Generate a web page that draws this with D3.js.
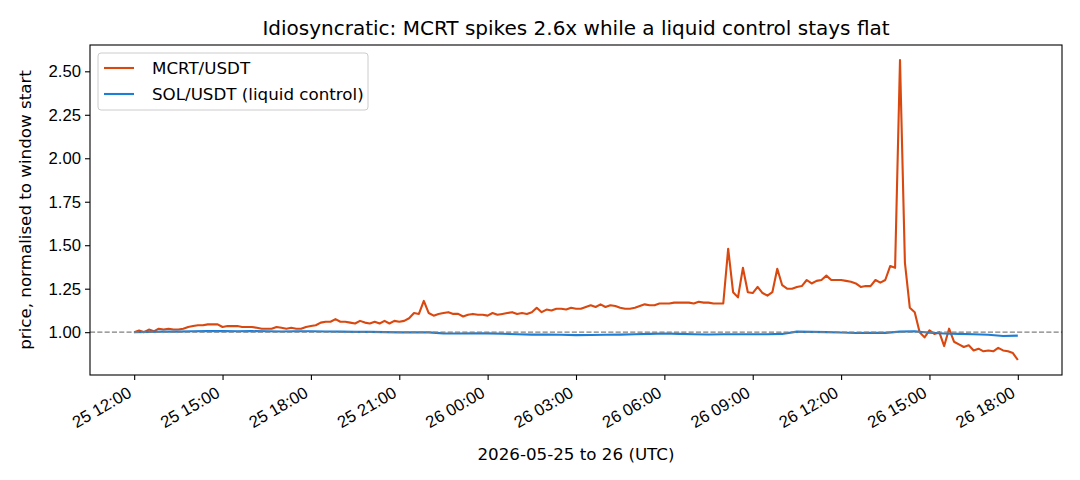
<!DOCTYPE html>
<html>
<head>
<meta charset="utf-8">
<script src="https://cdn.jsdelivr.net/npm/d3@7"></script>
<style>
  body { margin: 0; background: #fff; }
  svg { font-family: "DejaVu Sans", sans-serif; }
  .tick text { font-size: 16.7px; fill: #000; }
  .tick line { stroke: #000; stroke-width: 1.1; }
  .domain { display: none; }
</style>
</head>
<body>
<div id="chart-container"></div>
<script>
// MCRT/USDT, normalised, one reading every 10 minutes from 25 May 12:00 UTC
const mcrtStart = Date.UTC(2026, 4, 25, 12, 0);
const mcrtStepMin = 10;
const mcrtValues = [
  1.000, 1.010, 1.000, 1.015, 1.005, 1.020, 1.015, 1.020, 1.015, 1.015,
  1.020, 1.030, 1.035, 1.040, 1.040, 1.045, 1.045, 1.045, 1.030, 1.035,
  1.035, 1.035, 1.030, 1.030, 1.030, 1.025, 1.020, 1.020, 1.020, 1.030,
  1.025, 1.020, 1.025, 1.020, 1.020, 1.030, 1.035, 1.040, 1.055, 1.060,
  1.060, 1.075, 1.060, 1.060, 1.055, 1.050, 1.065, 1.055, 1.050, 1.060,
  1.050, 1.065, 1.050, 1.065, 1.060, 1.065, 1.080, 1.110, 1.105, 1.180,
  1.110, 1.095, 1.105, 1.110, 1.115, 1.105, 1.105, 1.090, 1.100, 1.105,
  1.100, 1.100, 1.095, 1.110, 1.100, 1.105, 1.110, 1.115, 1.105, 1.110,
  1.105, 1.115, 1.140, 1.115, 1.130, 1.125, 1.135, 1.135, 1.130, 1.140,
  1.135, 1.135, 1.145, 1.155, 1.145, 1.160, 1.145, 1.155, 1.150, 1.140,
  1.135, 1.135, 1.140, 1.150, 1.160, 1.155, 1.155, 1.165, 1.165, 1.165,
  1.170, 1.170, 1.170, 1.170, 1.165, 1.175, 1.170, 1.170, 1.165, 1.165,
  1.165, 1.480, 1.230, 1.200, 1.370, 1.230, 1.225, 1.260, 1.225, 1.210,
  1.230, 1.365, 1.270, 1.250, 1.250, 1.260, 1.265, 1.300, 1.280, 1.295,
  1.300, 1.325, 1.300, 1.300, 1.300, 1.295, 1.290, 1.280, 1.260, 1.265,
  1.265, 1.300, 1.285, 1.300, 1.380, 1.370, 2.565, 1.400, 1.140, 1.115,
  1.000, 0.970, 1.010, 0.990, 1.000, 0.920, 1.020, 0.945, 0.930, 0.915,
  0.925, 0.895, 0.905, 0.890, 0.895, 0.890, 0.910, 0.895, 0.890, 0.880,
  0.840
];

// SOL/USDT, normalised, one reading every 30 minutes over the same window
const solStart = Date.UTC(2026, 4, 25, 12, 0);
const solStepMin = 30;
const solValues = [
  1.000, 1.002, 1.003, 1.003, 1.005, 1.006, 1.006, 1.005, 1.006, 1.005,
  1.004, 1.005, 1.005, 1.004, 1.003, 1.002, 1.002, 1.000, 0.999, 0.999,
  0.999, 0.993, 0.992, 0.994, 0.993, 0.991, 0.988, 0.986, 0.986, 0.985,
  0.983, 0.984, 0.985, 0.986, 0.988, 0.990, 0.992, 0.990, 0.988, 0.987,
  0.988, 0.988, 0.988, 0.988, 0.990, 1.003, 1.002, 1.000, 0.998, 0.995,
  0.997, 0.996, 1.003, 1.005, 0.997, 0.992, 0.990, 0.988, 0.985, 0.978,
  0.980
];

const seriesNames = ['MCRT/USDT', 'SOL/USDT (liquid control)'];
const seriesColors = ['#d9480f', '#1c7ed6'];
const yTicks = [1.00, 1.25, 1.50, 1.75, 2.00, 2.25, 2.50];

const titleText = 'Idiosyncratic: MCRT spikes 2.6x while a liquid control stays flat';
const xLabel = '2026-05-25 to 26 (UTC)';
const yLabel = 'price, normalised to window start';

const toPoints = (start, step, values) =>
  values.map((v, i) => ({t: new Date(start + i * step * 60000), v: v}));

const mcrt = toPoints(mcrtStart, mcrtStepMin, mcrtValues);
const sol = toPoints(solStart, solStepMin, solValues);

const W = 1080, H = 480;
const margin = {left: 90, right: 18, top: 45, bottom: 105};
const innerW = W - margin.left - margin.right;
const innerH = H - margin.top - margin.bottom;

const svg = d3.select('#chart-container').append('svg')
  .attr('width', W)
  .attr('height', H);

// matplotlib style 5% margins around the data
const all = mcrt.concat(sol);
const tExt = d3.extent(all, d => +d.t);
const vExt = d3.extent(all, d => d.v);
const tPad = (tExt[1] - tExt[0]) * 0.05;
const vPad = (vExt[1] - vExt[0]) * 0.05;

const x = d3.scaleUtc()
  .domain([new Date(tExt[0] - tPad), new Date(tExt[1] + tPad)])
  .range([0, innerW]);
const y = d3.scaleLinear()
  .domain([vExt[0] - vPad, vExt[1] + vPad])
  .range([innerH, 0]);

const g = svg.append('g')
  .attr('transform', 'translate(' + margin.left + ',' + margin.top + ')');

g.append('defs').append('clipPath').attr('id', 'plot-clip')
  .append('rect').attr('width', innerW).attr('height', innerH);

//axes
const xAxis = d3.axisBottom(x)
  .ticks(d3.utcHour.every(3))
  .tickFormat(d3.utcFormat('%d %H:%M'))
  .tickSize(5)
  .tickPadding(3);
const yAxis = d3.axisLeft(y)
  .tickValues(yTicks)
  .tickFormat(d3.format('.2f'))
  .tickSize(5)
  .tickPadding(4);

// rotated labels: top-right corner of the box sits under the tick
g.append('g')
  .attr('class', 'x-axis')
  .attr('transform', 'translate(0,' + innerH + ')')
  .call(xAxis)
  .selectAll('.tick text')
  .attr('text-anchor', 'end')
  .attr('dy', null)
  .attr('y', 0)
  .attr('x', 0)
  .attr('transform', 'translate(-2,21) rotate(-30)');

g.append('g')
  .attr('class', 'y-axis')
  .call(yAxis);

//lines
const line = d3.line()
  .x(d => x(d.t))
  .y(d => y(d.v));

const plot = g.append('g').attr('clip-path', 'url(#plot-clip)');

[mcrt, sol].forEach((data, i) => {
  plot.append('path')
    .attr('fill', 'none')
    .attr('stroke', seriesColors[i])
    .attr('stroke-width', 2.1)
    .attr('stroke-linejoin', 'round')
    .attr('d', line(data));
});

plot.append('line')
  .attr('x1', 0)
  .attr('x2', innerW)
  .attr('y1', y(1))
  .attr('y2', y(1))
  .attr('stroke', '#808080')
  .attr('stroke-width', 1.4)
  .attr('stroke-dasharray', '5.1,2.2');

//frame
g.append('rect')
  .attr('width', innerW)
  .attr('height', innerH)
  .attr('fill', 'none')
  .attr('stroke', '#000')
  .attr('stroke-width', 1.1);

//legend
const legend = g.append('g').attr('transform', 'translate(8,8)');
legend.append('rect')
  .attr('width', 270)
  .attr('height', 57)
  .attr('rx', 3)
  .attr('fill', '#fff')
  .attr('fill-opacity', 0.8)
  .attr('stroke', '#cccccc')
  .attr('stroke-width', 1);
seriesNames.forEach((name, i) => {
  const ly = 15 + i * 26;
  legend.append('line')
    .attr('x1', 6).attr('x2', 36)
    .attr('y1', ly).attr('y2', ly)
    .attr('stroke', seriesColors[i])
    .attr('stroke-width', 2.1);
  legend.append('text')
    .attr('x', 54)
    .attr('y', ly + 6)
    .style('font-size', '16.7px')
    .text(name);
});

//title and axis labels
svg.append('text')
  .attr('x', margin.left + innerW / 2)
  .attr('y', 35)
  .attr('text-anchor', 'middle')
  .style('font-size', '20px')
  .text(titleText);

svg.append('text')
  .attr('x', margin.left + innerW / 2)
  .attr('y', 460)
  .attr('text-anchor', 'middle')
  .style('font-size', '16.7px')
  .text(xLabel);

svg.append('text')
  .attr('transform', 'translate(31,' + (margin.top + innerH / 2) + ') rotate(-90)')
  .attr('text-anchor', 'middle')
  .style('font-size', '16.7px')
  .text(yLabel);
</script>
</body>
</html>
